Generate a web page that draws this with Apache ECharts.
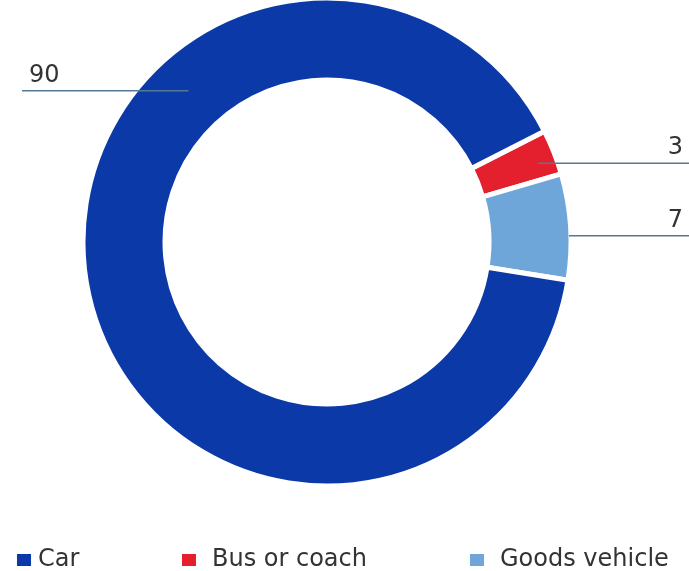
<!DOCTYPE html>
<html><head><meta charset="utf-8">
<script src="https://cdn.jsdelivr.net/npm/echarts/dist/echarts.min.js"></script>
<style>html,body{margin:0;padding:0;background:#fff}#c{width:689px;height:571px}</style>
</head><body><div id="c"></div>
<script>
// ---- data ----
const categories = ['Car', 'Bus or coach', 'Goods vehicle'];
const values = [90, 3, 7];
const colors = ['#0b3aa8', '#e5202e', '#6fa6da'];
// order in which slices are drawn clockwise from the start angle
const drawOrder = ['Bus or coach', 'Goods vehicle', 'Car'];

// ---- layout / style ----
const CX = 327, CY = 242, R_IN = 162, R_OUT = 244;
const FONT = 'DejaVu Sans';
const labelCfg = {
  'Car':           { angle: 132.5, r: 205, endX: 22,  textX: 29,  align: 'left' },
  'Bus or coach':  { angle: 20.5,  r: 225, endX: 689, textX: 683, align: 'right' },
  'Goods vehicle': { angle: 1.5,   r: 242, endX: 689, textX: 683, align: 'right' }
};
const legendCfg = [
  { left: 10,  pad: 1 },
  { left: 175, pad: 10 },
  { left: 463, pad: 10 }
];

const seriesData = drawOrder.map(n => {
  const i = categories.indexOf(n);
  return { name: n, value: values[i], itemStyle: { color: colors[i] } };
});
const labelData = seriesData.map(d => ({ name: d.name, value: d.value }));

const common = {
  type: 'pie',
  center: [CX, CY],
  radius: [R_IN, R_OUT],
  startAngle: 27,
  clockwise: true,
  avoidLabelOverlap: false,
  emphasis: { disabled: true }
};

const chart = echarts.init(document.getElementById('c'), null, { renderer: 'canvas' });
chart.setOption({
  animation: false,
  backgroundColor: '#fff',
  legend: categories.map((n, i) => ({
    data: [{ name: n, itemStyle: { color: colors[i] } }],
    left: legendCfg[i].left,
    top: 543,
    itemWidth: 16,
    itemHeight: 14,
    icon: 'rect',
    selectedMode: false,
    textStyle: { fontFamily: FONT, fontSize: 24, color: '#333', padding: [0, 0, 0, legendCfg[i].pad] }
  })),
  series: [
    Object.assign({}, common, {
      name: 'ring',
      z: 2,
      itemStyle: { borderColor: '#fff', borderWidth: 5 },
      label: { show: false },
      labelLine: { show: false },
      data: seriesData
    }),
    Object.assign({}, common, {
      name: 'labels',
      z: 5,
      silent: true,
      itemStyle: { color: 'rgba(0,0,0,0)', borderWidth: 0 },
      label: {
        show: true,
        position: 'outside',
        formatter: '{c}',
        fontFamily: FONT,
        fontSize: 24,
        color: '#333'
      },
      labelLine: { show: true, showAbove: true, lineStyle: { color: '#557894', width: 1.5 } },
      labelLayout: function (p) {
        const cfg = labelCfg[labelData[p.dataIndex].name];
        const a = cfg.angle * Math.PI / 180;
        const px = CX + cfg.r * Math.cos(a), py = CY - cfg.r * Math.sin(a);
        return {
          x: cfg.textX, y: py - 3,
          align: cfg.align, verticalAlign: 'bottom',
          labelLinePoints: [[px, py], [px, py], [cfg.endX, py]]
        };
      },
      data: labelData
    })
  ]
});
</script>
</body></html>
